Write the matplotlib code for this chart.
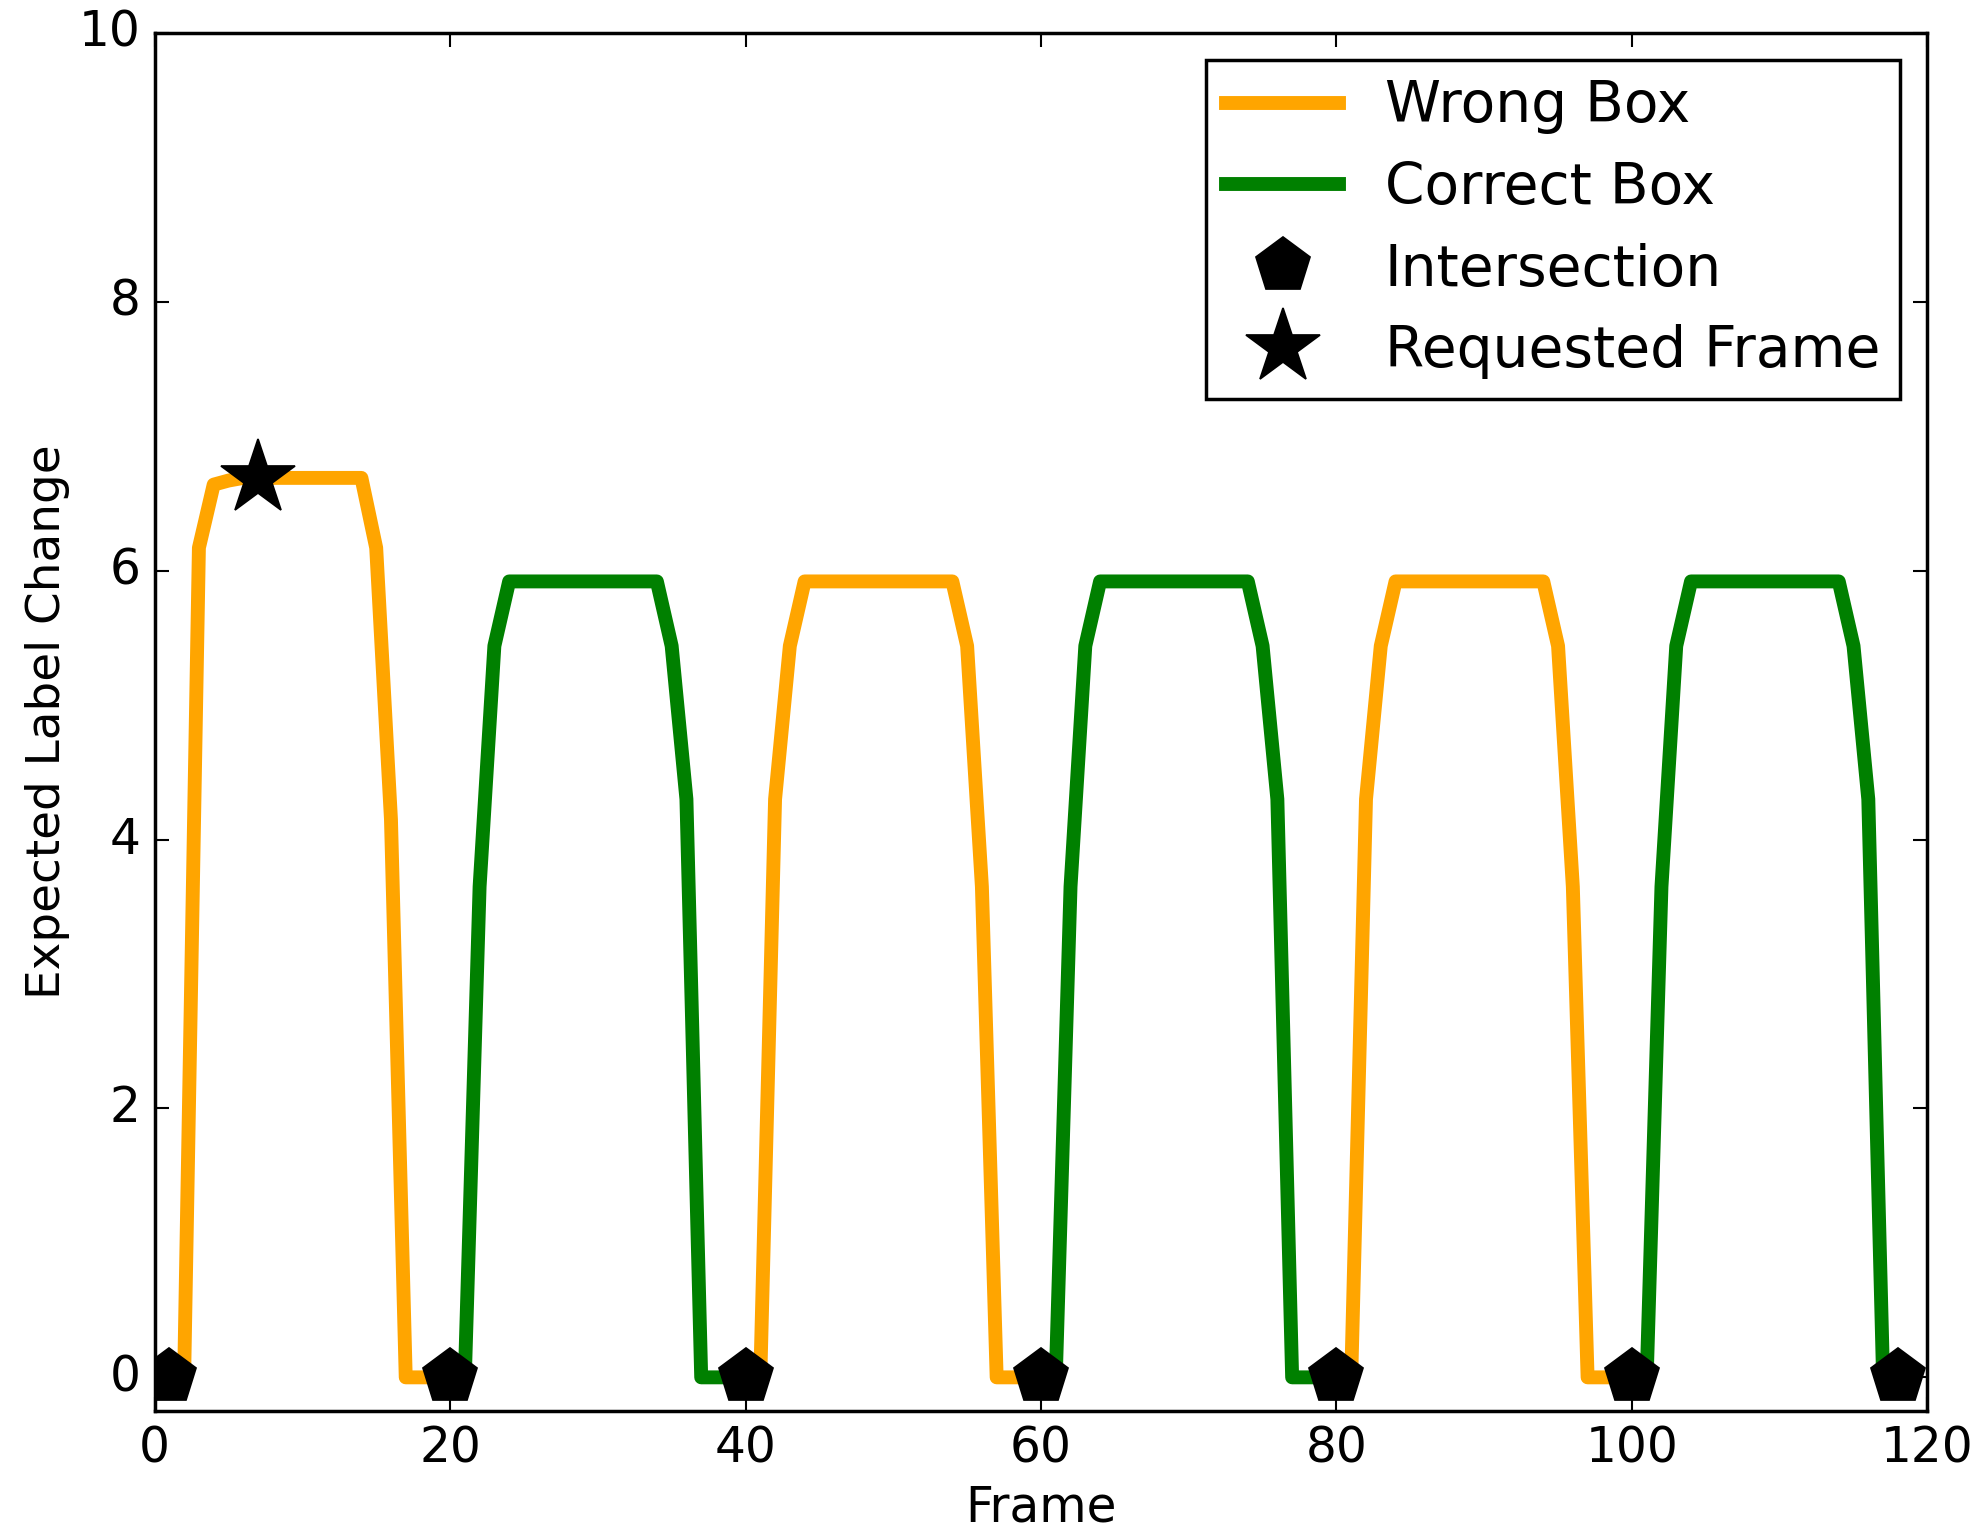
import matplotlib
matplotlib.use("Agg")
import matplotlib.pyplot as plt
import numpy as np

plt.style.use("classic")

# Expected label change per frame, one run of frames for each time a box is active
wrong_box_starts = [1, 40, 80]
wrong_box_values = [
    [0, 0, 6.17, 6.64, 6.67, 6.69, 6.69, 6.69, 6.69, 6.69, 6.69, 6.69, 6.69, 6.69,
     6.17, 4.15, 0, 0, 0, 0],
    [0, 0, 4.30, 5.44, 5.92, 5.92, 5.92, 5.92, 5.92, 5.92, 5.92, 5.92, 5.92, 5.92, 5.92,
     5.44, 3.65, 0, 0, 0, 0],
    [0, 0, 4.30, 5.44, 5.92, 5.92, 5.92, 5.92, 5.92, 5.92, 5.92, 5.92, 5.92, 5.92, 5.92,
     5.44, 3.65, 0, 0, 0, 0],
]

correct_box_starts = [20, 60, 100]
correct_box_values = [
    [0, 0, 3.65, 5.44, 5.92, 5.92, 5.92, 5.92, 5.92, 5.92, 5.92, 5.92, 5.92, 5.92, 5.92,
     5.44, 4.30, 0, 0, 0, 0],
    [0, 0, 3.65, 5.44, 5.92, 5.92, 5.92, 5.92, 5.92, 5.92, 5.92, 5.92, 5.92, 5.92, 5.92,
     5.44, 4.30, 0, 0, 0, 0],
    [0, 0, 3.65, 5.44, 5.92, 5.92, 5.92, 5.92, 5.92, 5.92, 5.92, 5.92, 5.92, 5.92, 5.92,
     5.44, 4.30, 0, 0],
]

intersection_frames = [1, 20, 40, 60, 80, 100, 118]
intersection_values = [0, 0, 0, 0, 0, 0, 0]

requested_frame = 7

x_ticks = [0, 20, 40, 60, 80, 100, 120]
y_ticks = [0, 2, 4, 6, 8, 10]

DPI = 250
fig = plt.figure(figsize=(1987 / DPI, 1529 / DPI), dpi=DPI, facecolor="white")
ax = fig.add_axes([0.0778, 0.0772, 0.8922, 0.9013])
ax.set_facecolor("white")

LW = 4.0
for i, (start, vals) in enumerate(zip(wrong_box_starts, wrong_box_values)):
    frames = np.arange(start, start + len(vals))
    ax.plot(frames, vals, color="orange", lw=LW, solid_joinstyle="round",
            label="Wrong Box" if i == 0 else None)
for i, (start, vals) in enumerate(zip(correct_box_starts, correct_box_values)):
    frames = np.arange(start, start + len(vals))
    ax.plot(frames, vals, color="green", lw=LW, solid_joinstyle="round",
            label="Correct Box" if i == 0 else None)

ax.plot(intersection_frames, intersection_values, linestyle="none", marker="p",
        markersize=16.5, color="black", markeredgecolor="black",
        label="Intersection")

req_value = wrong_box_values[0][requested_frame - wrong_box_starts[0]]
ax.plot([requested_frame], [req_value], linestyle="none", marker="*",
        markersize=22.5, color="black", markeredgecolor="black",
        label="Requested Frame")

ax.set_xlim(0, 120)
ax.set_ylim(-0.25, 10)
ax.set_xticks(x_ticks)
ax.set_yticks(y_ticks)
ax.tick_params(axis="both", which="major", labelsize=14, direction="in",
               length=4, width=0.6, top=True, right=True, pad=4)
ax.minorticks_off()
for sp in ax.spines.values():
    sp.set_linewidth(1.0)

ax.set_xlabel("Frame", fontsize=14, labelpad=3)
ax.set_ylabel("Expected Label Change", fontsize=13.5, labelpad=2.5)

leg = ax.legend(loc="upper right", bbox_to_anchor=(0.9845, 0.9806),
                borderaxespad=0, numpoints=1, fontsize=16.3, fancybox=False,
                frameon=True, borderpad=0.35, handlelength=2.0,
                handletextpad=0.8, labelspacing=0.47)
leg.get_frame().set_edgecolor("black")
leg.get_frame().set_linewidth(1.0)

fig.savefig("out.png", dpi=DPI, facecolor="white")
